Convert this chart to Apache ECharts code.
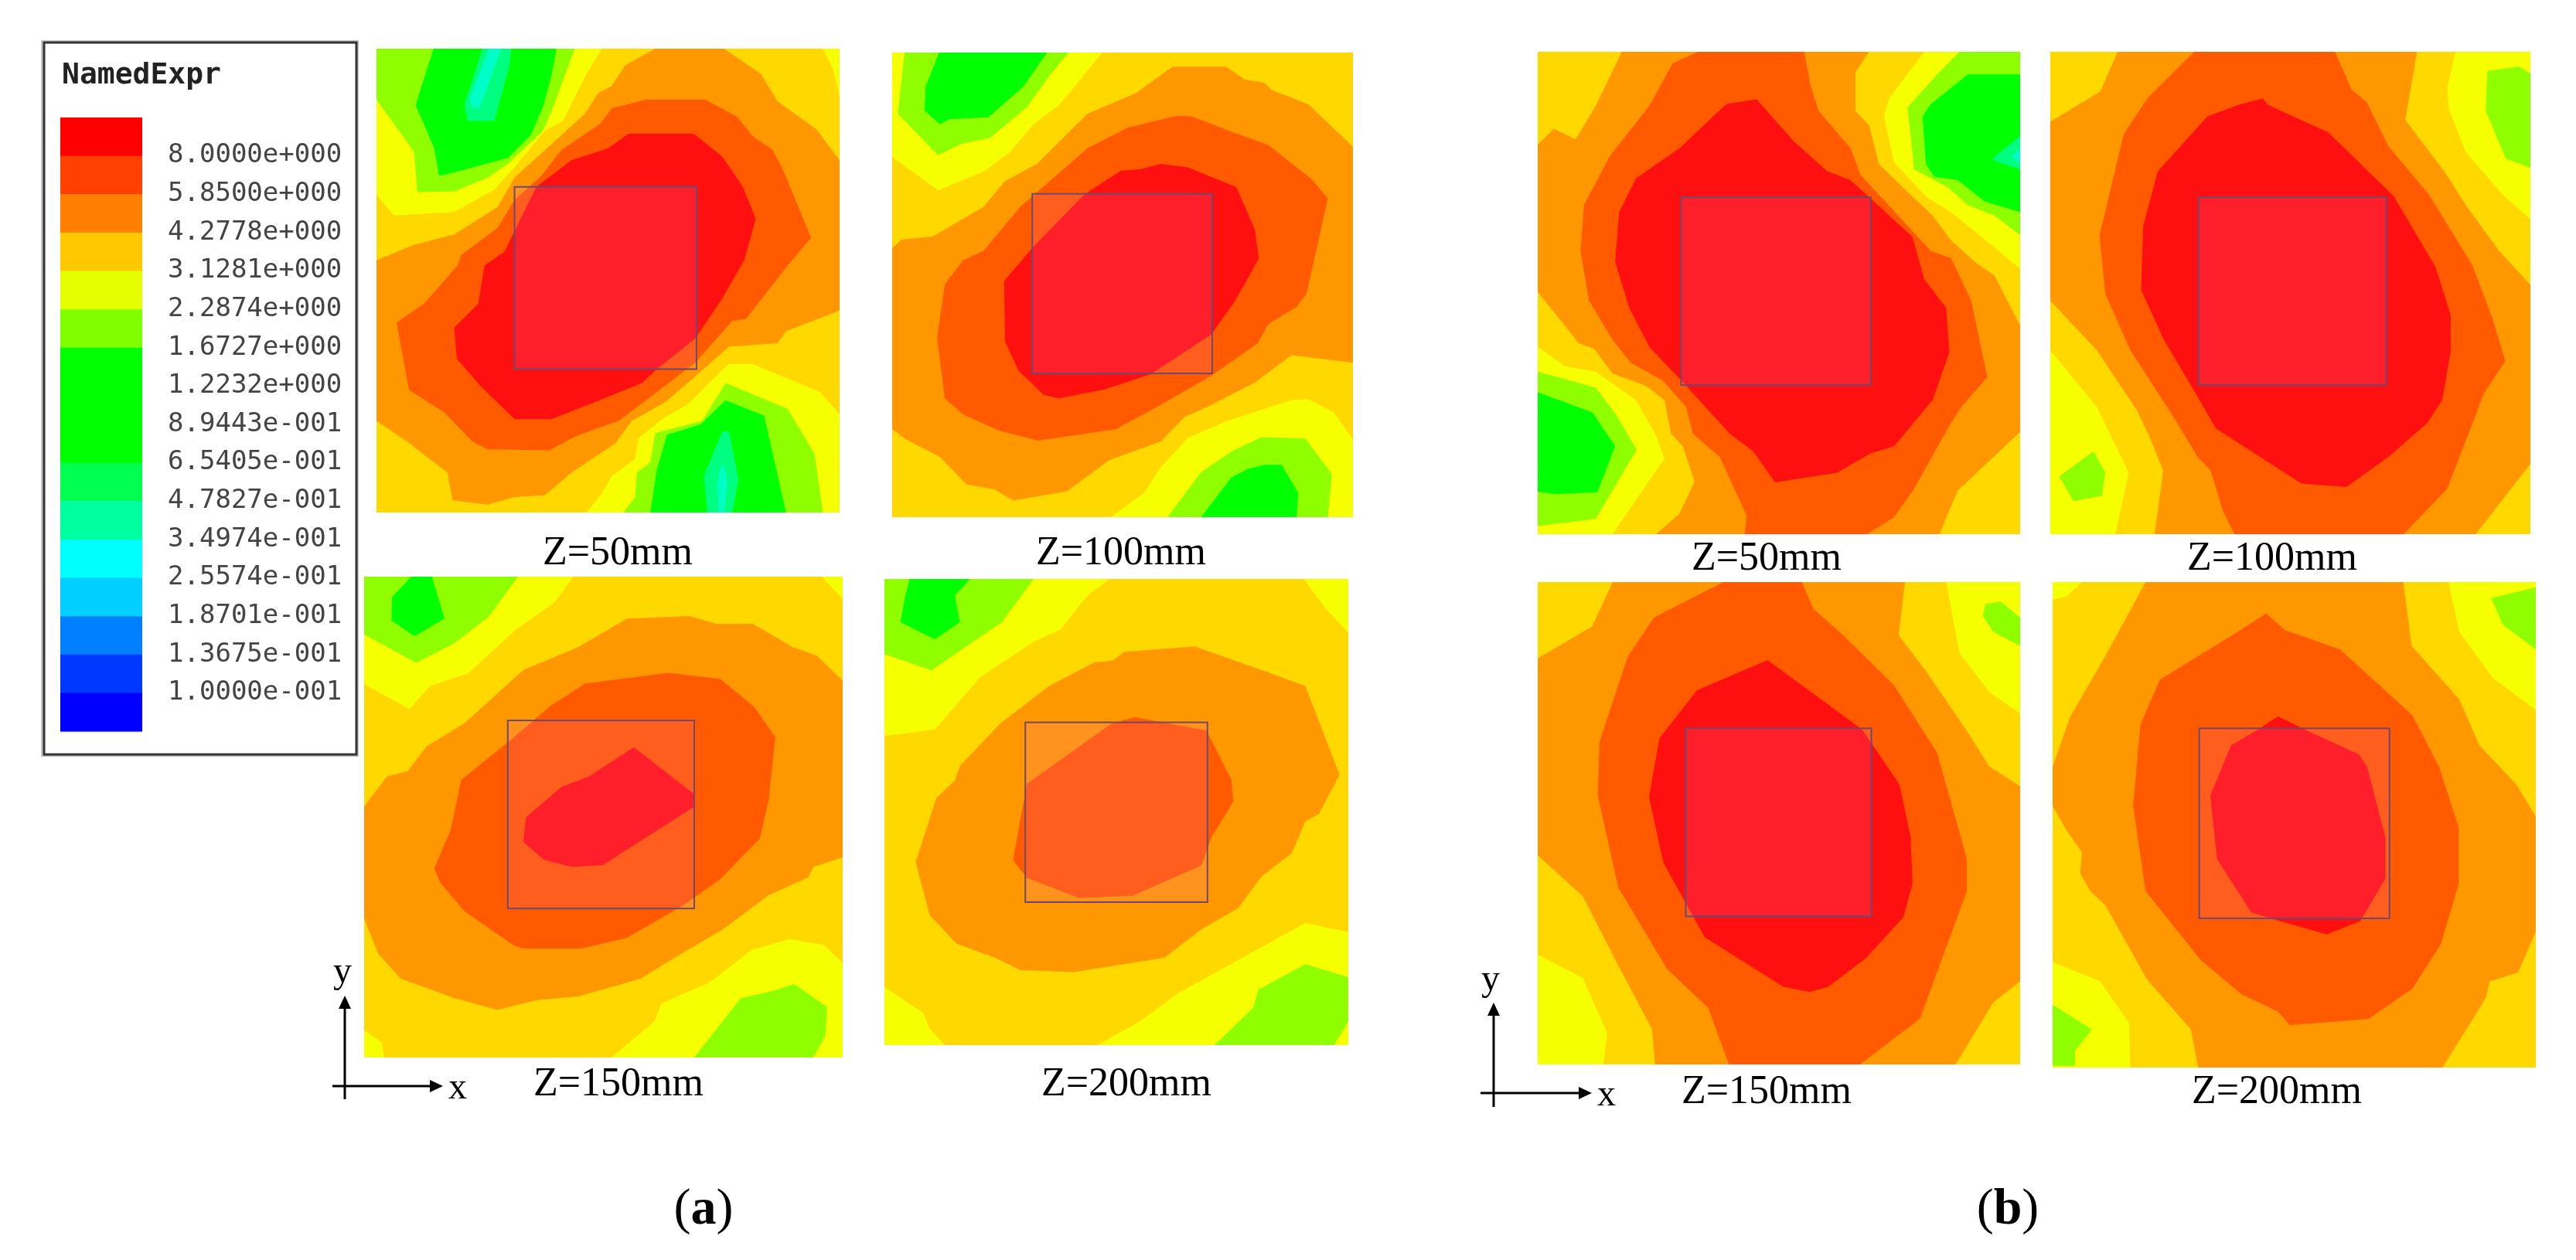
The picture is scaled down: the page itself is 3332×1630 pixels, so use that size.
<!DOCTYPE html>
<html>
<head>
<meta charset="utf-8">
<title>NamedExpr contours</title>
<style>
    html, body { margin: 0; padding: 0; background: #fff; }
    #chart { width: 3332px; height: 1630px; }
</style>
<script src="https://cdn.jsdelivr.net/npm/echarts@6/dist/echarts.min.js"></script>
</head>
<body>
<div id="chart"></div>
<script>
// contour levels, lower bound of each band on the colour scale
const RED = 8, REDORANGE = 5.85, ORANGE = 4.2778, GOLD = 3.1281, YELLOW = 2.2874
const LIME = 1.6727, GREEN = 0.65405, SPRING = 0.34974, CYAN = 0.25574

const legendLabels = ["8.0000e+000", "5.8500e+000", "4.2778e+000", "3.1281e+000", "2.2874e+000",
    "1.6727e+000", "1.2232e+000", "8.9443e-001", "6.5405e-001", "4.7827e-001", "3.4974e-001",
    "2.5574e-001", "1.8701e-001", "1.3675e-001", "1.0000e-001"]
const legendBands = [16, 15, 14, 13, 12, 11, 10, 9, 8, 7, 6, 5, 4, 3, 2, 1]

// every contour is [level, outline], x and y are positions on the measured plane of that map
const a50Extent = [[108, 1490], [52, 1395]]
const a50Square = [520, 452, 1063, 980]
const a50Contours = [
    [ORANGE, [[940,52],[1145,52],[1255,125],[1305,205],[1420,285],[1490,375],[1490,810],[1330,870],[1305,905],[1160,915],[1060,1000],[970,1075],[870,1130],[820,1195],[690,1280],[610,1345],[520,1350],[440,1372],[335,1360],[320,1280],[200,1190],[108,1130],[108,665],[220,620],[340,590],[470,510],[520,425],[640,320],[730,240],[770,180],[810,160],[850,100]]],
    [REDORANGE, [[910,200],[1090,200],[1185,250],[1230,305],[1290,345],[1320,400],[1405,600],[1335,680],[1210,835],[1170,840],[1060,960],[940,1050],[830,1130],[700,1175],[625,1215],[440,1212],[395,1190],[310,1105],[205,1040],[168,845],[250,790],[350,680],[360,650],[470,570],[520,490],[600,420],[660,345],[775,270],[810,225]]],
    [RED, [[860,298],[1055,298],[1140,365],[1200,450],[1240,545],[1205,665],[1140,775],[1060,890],[945,980],[900,1020],[800,1060],[630,1125],[520,1125],[420,1030],[348,950],[340,860],[412,790],[430,680],[490,640],[525,570],[585,452],[690,375],[800,340]]],
    [YELLOW, [[108,52],[780,52],[735,125],[665,260],[610,290],[520,395],[460,460],[340,525],[160,535],[108,475]]],
    [LIME, [[108,52],[700,52],[670,130],[640,210],[605,290],[500,385],[440,425],[340,465],[230,468],[220,350],[108,200]]],
    [GREEN, [[278,52],[645,52],[630,130],[605,220],[570,300],[500,368],[340,410],[295,420],[280,340],[225,215]]],
    [SPRING, [[425,52],[510,52],[505,100],[460,260],[380,262],[370,215]]],
    [CYAN, [[445,52],[480,52],[415,225],[393,220],[385,195]]],
    [YELLOW, [[1490,1110],[1430,1045],[1230,965],[1160,965],[1100,1020],[1040,1080],[960,1125],[890,1180],[880,1240],[810,1290],[780,1340],[735,1395],[1490,1395]]],
    [LIME, [[1150,1020],[1335,1095],[1415,1225],[1440,1395],[845,1395],[880,1350],[885,1280],[925,1250],[940,1165],[1080,1130]]],
    [GREEN, [[1150,1070],[1265,1115],[1330,1395],[925,1395],[945,1270],[975,1170],[1075,1140]]],
    [SPRING, [[1140,1160],[1160,1160],[1188,1300],[1170,1395],[1095,1395],[1085,1290]]],
    [CYAN, [[1137,1260],[1145,1260],[1155,1310],[1145,1395],[1130,1395],[1125,1310]]],
    [YELLOW, [[1440,52],[1490,52],[1490,190],[1470,110]]],
]

const a100Extent = [[78, 1453], [62, 1410]]
const a100Square = [496, 472, 1033, 993]
const a100Contours = [
    [ORANGE, [[915,103],[1075,103],[1130,140],[1190,150],[1210,170],[1320,212],[1453,335],[1453,962],[1270,940],[1160,1020],[1030,1085],[950,1120],[880,1190],[725,1245],[600,1335],[440,1362],[400,1340],[385,1330],[300,1315],[220,1235],[120,1185],[78,1155],[78,630],[105,605],[200,595],[350,510],[415,435],[510,385],[660,240],[805,180]]],
    [REDORANGE, [[930,245],[975,248],[1100,295],[1200,330],[1330,430],[1378,485],[1315,760],[1285,800],[1200,850],[1170,905],[1030,1000],[860,1095],[745,1155],[515,1188],[400,1160],[290,1112],[235,1065],[212,890],[235,735],[290,665],[350,638],[460,510],[660,340],[780,280]]],
    [RED, [[880,385],[960,395],[1105,452],[1160,575],[1172,660],[1100,785],[1030,880],[850,995],[710,1040],[575,1065],[530,1055],[455,985],[415,900],[412,725],[500,625],[650,475],[760,405],[820,400]]],
    [YELLOW, [[78,62],[705,62],[640,140],[575,215],[500,270],[430,350],[355,405],[215,462],[78,365]]],
    [LIME, [[115,62],[605,62],[555,120],[480,220],[370,310],[290,325],[215,360],[95,240]]],
    [GREEN, [[218,62],[540,62],[470,160],[365,250],[250,255],[220,270],[175,230],[178,160]]],
    [YELLOW, [[1270,1070],[1320,1068],[1395,1105],[1453,1185],[1453,1410],[730,1410],[830,1340],[880,1265],[960,1180],[1080,1130]]],
    [LIME, [[1180,1178],[1310,1182],[1390,1285],[1378,1410],[900,1410],[1000,1280],[1090,1220]]],
    [GREEN, [[1190,1258],[1240,1258],[1290,1340],[1285,1410],[1000,1410],[1090,1295],[1140,1270]]],
]

const a150Extent = [[159, 1545], [57, 1412]]
const a150Square = [575, 462, 1115, 992]
const a150Contours = [
    [ORANGE, [[920,175],[1100,168],[1180,190],[1285,190],[1400,255],[1470,280],[1545,350],[1545,848],[1460,875],[1445,905],[1330,955],[1200,1050],[1060,1130],[960,1190],[780,1240],[660,1250],[545,1278],[420,1245],[265,1190],[200,1120],[159,1020],[159,705],[225,620],[285,605],[340,535],[450,470],[620,320],[780,255]]],
    [REDORANGE, [[800,358],[1040,328],[1190,345],[1290,425],[1350,510],[1330,690],[1305,795],[1190,910],[1080,985],[920,1075],[790,1105],[620,1105],[590,1095],[450,1000],[380,920],[362,880],[410,770],[440,630],[580,520],[700,420]]],
    [RED, [[940,538],[1115,670],[1115,705],[850,870],[760,875],[680,855],[620,805],[628,735],[730,650],[810,620]]],
    [YELLOW, [[159,57],[765,57],[710,130],[600,205],[460,330],[350,365],[290,430],[159,360]]],
    [LIME, [[159,57],[605,57],[520,170],[420,245],[310,300],[159,220]]],
    [GREEN, [[295,57],[355,57],[392,175],[305,225],[238,180],[240,115]]],
    [YELLOW, [[1485,57],[1545,57],[1545,120]]],
    [YELLOW, [[1390,1078],[1490,1095],[1545,1145],[1545,1412],[875,1412],[1000,1310],[1020,1260],[1160,1200],[1280,1110]]],
    [LIME, [[1405,1205],[1500,1270],[1495,1350],[1460,1412],[1115,1412],[1250,1245],[1340,1225]]],
    [YELLOW, [[159,1335],[210,1370],[218,1412],[159,1412]]],
]

const a200Extent = [[55, 1438], [63, 1376]]
const a200Square = [475, 467, 1018, 973]
const a200Contours = [
    [ORANGE, [[770,268],[980,253],[1210,330],[1310,365],[1412,615],[1350,725],[1310,745],[1270,835],[1180,900],[1110,990],[1000,1050],[890,1130],[620,1170],[460,1165],[385,1130],[270,1090],[190,1010],[148,860],[210,680],[265,630],[280,590],[400,470],[545,365],[680,298],[735,293]]],
    [REDORANGE, [[800,452],[1015,490],[1090,630],[1095,690],[1030,790],[1000,870],[795,955],[635,962],[480,905],[438,855],[480,640],[730,472]]],
    [YELLOW, [[55,63],[725,63],[660,110],[580,205],[500,240],[340,340],[205,487],[55,505]]],
    [LIME, [[55,63],[500,63],[405,185],[195,320],[55,275]]],
    [GREEN, [[130,63],[310,63],[265,110],[280,185],[205,233],[103,185],[115,120]]],
    [YELLOW, [[1305,63],[1438,63],[1438,215],[1370,145]]],
    [YELLOW, [[1310,1032],[1438,1058],[1438,1376],[690,1376],[815,1310],[930,1230]]],
    [LIME, [[1310,1148],[1438,1185],[1438,1310],[1395,1376],[1040,1376],[1155,1270],[1170,1220]]],
    [YELLOW, [[55,1212],[170,1285],[190,1330],[235,1376],[55,1376]]],
]

const b50Extent = [[67, 1506], [58, 1418]]
const b50Square = [495, 468, 1060, 998]
const b50Contours = [
    [ORANGE, [[318,58],[1055,58],[1015,115],[1015,225],[1055,265],[1085,375],[1145,430],[1245,520],[1300,590],[1370,650],[1430,690],[1506,830],[1506,1130],[1320,1295],[1265,1418],[420,1418],[490,1360],[535,1270],[500,1170],[465,1135],[445,1040],[390,1000],[290,965],[235,895],[190,880],[67,735],[67,320],[115,275],[180,305],[240,210]]],
    [REDORANGE, [[545,58],[862,58],[880,150],[905,225],[1000,330],[1030,405],[1240,620],[1300,640],[1360,760],[1408,975],[1330,1060],[1290,1120],[1190,1290],[1130,1370],[1050,1418],[685,1418],[690,1365],[610,1200],[530,1135],[510,1060],[440,985],[345,935],[290,870],[220,760],[195,620],[205,490],[280,355],[400,210],[470,90]]],
    [RED, [[630,205],[720,192],[830,310],[930,395],[1000,420],[1185,580],[1220,700],[1285,780],[1295,905],[1245,1040],[1130,1170],[1060,1190],[960,1245],[775,1272],[710,1185],[640,1135],[515,1005],[400,890],[340,780],[298,650],[310,510],[360,415],[490,330]]],
    [YELLOW, [[1220,58],[1506,58],[1506,670],[1430,610],[1300,510],[1230,470],[1130,370],[1100,240],[1115,190]]],
    [LIME, [[1325,58],[1506,58],[1506,575],[1430,520],[1350,490],[1290,440],[1190,390],[1180,300],[1170,215],[1260,120]]],
    [GREEN, [[1350,122],[1506,122],[1506,510],[1400,480],[1320,420],[1250,410],[1225,375],[1215,240],[1240,205]]],
    [SPRING, [[1506,295],[1506,390],[1420,362]]],
    [CYAN, [[1506,330],[1506,370],[1480,355]]],
    [YELLOW, [[67,890],[150,945],[240,960],[360,1040],[420,1140],[445,1205],[290,1418],[67,1418]]],
    [LIME, [[67,960],[240,1005],[300,1080],[362,1180],[240,1375],[67,1395]]],
    [GREEN, [[67,1018],[230,1075],[298,1170],[245,1300],[120,1305],[67,1298]]],
]

const b100Extent = [[51, 1483], [58, 1418]]
const b100Square = [493, 468, 1053, 998]
const b100Contours = [
    [ORANGE, [[252,58],[1145,58],[1110,250],[1230,400],[1290,490],[1390,620],[1483,715],[1483,1220],[1320,1418],[362,1418],[388,1240],[350,1150],[310,1070],[190,900],[51,760],[51,255],[200,170]]],
    [REDORANGE, [[480,58],[900,58],[950,165],[995,200],[1060,325],[1180,460],[1310,660],[1370,810],[1408,930],[1345,1020],[1235,1290],[1105,1418],[600,1418],[565,1350],[530,1240],[490,1200],[420,1090],[290,900],[215,740],[198,575],[270,290],[340,190]]],
    [RED, [[620,205],[685,190],[700,208],[880,285],[1075,465],[1200,665],[1245,800],[1245,905],[1220,1040],[1175,1105],[1060,1200],[935,1285],[800,1275],[545,1120],[490,1030],[390,870],[322,730],[328,550],[372,395],[520,240]]],
    [YELLOW, [[1260,58],[1483,58],[1483,530],[1400,460],[1290,340],[1240,220],[1235,160]]],
    [LIME, [[1355,112],[1450,100],[1483,120],[1483,385],[1410,360],[1350,225]]],
    [YELLOW, [[51,900],[190,1060],[285,1245],[245,1418],[51,1418]]],
    [LIME, [[78,1255],[180,1185],[215,1245],[205,1310],[120,1325]]],
]

const b150Extent = [[225, 1512], [50, 1409]]
const b150Square = [620, 462, 1115, 992]
const b150Contours = [
    [ORANGE, [[425,50],[1205,50],[1188,200],[1260,300],[1370,470],[1430,570],[1512,625],[1512,1175],[1440,1235],[1340,1409],[538,1409],[530,1310],[430,1110],[345,935],[225,820],[225,265],[370,175]]],
    [REDORANGE, [[720,50],[930,50],[960,125],[1040,200],[1175,340],[1290,530],[1370,830],[1370,920],[1245,1280],[1085,1409],[735,1409],[680,1250],[570,1140],[440,910],[385,650],[390,500],[465,260],[535,150]]],
    [RED, [[838,270],[1090,465],[1190,620],[1220,770],[1225,900],[1200,995],[1100,1110],[1000,1190],[950,1205],[880,1190],[670,1050],[560,840],[522,655],[550,490],[650,355]]],
    [YELLOW, [[1315,50],[1512,50],[1512,420],[1430,360],[1350,250]]],
    [LIME, [[1420,112],[1460,105],[1512,150],[1512,230],[1440,190],[1412,145]]],
    [YELLOW, [[225,1100],[345,1165],[410,1320],[400,1409],[225,1409]]],
]

const b200Extent = [[58, 1498], [50, 1417]]
const b200Square = [495, 462, 1062, 997]
const b200Contours = [
    [ORANGE, [[335,50],[1103,50],[1128,230],[1270,380],[1330,510],[1440,620],[1498,710],[1498,1035],[1445,1150],[1360,1175],[1350,1220],[1220,1417],[492,1417],[470,1310],[340,1170],[215,960],[170,920],[140,870],[145,810],[100,750],[58,680],[58,570],[110,430],[220,250]]],
    [REDORANGE, [[695,138],[750,185],[915,240],[1130,425],[1210,570],[1268,740],[1268,900],[1215,1070],[1130,1195],[1000,1280],[765,1298],[730,1260],[620,1210],[500,1115],[335,920],[298,680],[320,450],[378,325],[610,190]]],
    [RED, [[730,428],[820,470],[970,535],[995,570],[1050,770],[1050,885],[975,1005],[875,1042],[700,995],[650,980],[548,830],[528,650],[590,510],[670,465]]],
    [YELLOW, [[1238,50],[1498,50],[1498,410],[1370,320],[1270,190]]],
    [LIME, [[1365,95],[1498,65],[1498,240],[1400,170]]],
    [YELLOW, [[58,50],[145,50],[100,90],[58,100]]],
    [YELLOW, [[58,1120],[200,1175],[285,1290],[290,1417],[58,1417]]],
    [LIME, [[58,1240],[175,1310],[125,1370],[125,1412],[58,1412]]],
]

const levelColors = {
    [RED]: "#FF1010",
    [REDORANGE]: "#FF5A00",
    [ORANGE]: "#FF9800",
    [GOLD]: "#FFD800",
    [YELLOW]: "#F5FF00",
    [LIME]: "#8FFF00",
    [GREEN]: "#00FF00",
    [SPRING]: "#00FF80",
    [CYAN]: "#00FFC8",
}
const legendColors = ["#0000FF", "#0038FF", "#0080FF", "#00CFFF", "#00FFFF", "#00FF9F", "#00FF50",
    "#00FF00", "#00FF00", "#00FF00", "#7FFF00", "#E6FF00", "#FFC800", "#FF8000", "#FF4000", "#FF0000"]

const serif = '"Liberation Serif", "Times New Roman", serif'
const mono = '"DejaVu Sans Mono", monospace'

// box is left, top, width, height of the map on the page
const panels = [
    { extent: a50Extent, square: a50Square, contours: a50Contours, box: [487, 63, 599, 600], label: "Z=50mm", at: [799, 716] },
    { extent: a100Extent, square: a100Square, contours: a100Contours, box: [1154, 68, 596, 601], label: "Z=100mm", at: [1450, 716] },
    { extent: a150Extent, square: a150Square, contours: a150Contours, box: [471, 746, 619, 622], label: "Z=150mm", at: [800, 1403] },
    { extent: a200Extent, square: a200Square, contours: a200Contours, box: [1144, 749, 600, 603], label: "Z=200mm", at: [1457, 1403] },
    { extent: b50Extent, square: b50Square, contours: b50Contours, box: [1989, 67, 624, 624], label: "Z=50mm", at: [2285, 723] },
    { extent: b100Extent, square: b100Square, contours: b100Contours, box: [2652, 67, 621, 624], label: "Z=100mm", at: [2939, 723] },
    { extent: b150Extent, square: b150Square, contours: b150Contours, box: [1989, 753, 624, 624], label: "Z=150mm", at: [2285, 1413] },
    { extent: b200Extent, square: b200Square, contours: b200Contours, box: [2655, 753, 625, 628], label: "Z=200mm", at: [2945, 1413] },
]

function contourSeries(panel, i) {
    return {
        type: "custom",
        coordinateSystem: "cartesian2d",
        xAxisIndex: i,
        yAxisIndex: i,
        silent: true,
        clip: true,
        data: panel.contours.map((c, k) => [k, c[0]]),
        renderItem: function (params, api) {
            let c = panel.contours[params.dataIndex]
            return {
                type: "polygon",
                shape: { points: c[1].map((p) => api.coord(p)) },
                style: { fill: levelColors[c[0]] },
            }
        },
    }
}

// the translucent square laid over each map, drawn after the contours
function squareSeries(panel, i) {
    return {
        type: "custom",
        coordinateSystem: "cartesian2d",
        xAxisIndex: i,
        yAxisIndex: i,
        silent: true,
        z: 5,
        data: [panel.square],
        renderItem: function (params, api) {
            let a = api.coord([api.value(0), api.value(1)])
            let b = api.coord([api.value(2), api.value(3)])
            return {
                type: "rect",
                shape: { x: a[0], y: a[1], width: b[0] - a[0], height: b[1] - a[1] },
                style: { fill: "rgba(255,122,200,0.15)", stroke: "#6A4A72", lineWidth: 2 },
            }
        },
    }
}

const legendIndex = panels.length

function arrows(ox, oy, top, left, right, bottom) {
    let ln = { stroke: "#000", lineWidth: 3 }
    return [
        { type: "line", shape: { x1: ox, y1: top + 10, x2: ox, y2: bottom }, style: ln },
        { type: "line", shape: { x1: left, y1: oy, x2: right - 10, y2: oy }, style: ln },
        { type: "polygon", shape: { points: [[ox, top], [ox - 8, top + 17], [ox + 8, top + 17]] }, style: { fill: "#000" } },
        { type: "polygon", shape: { points: [[right, oy], [right - 17, oy - 8], [right - 17, oy + 8]] }, style: { fill: "#000" } },
    ]
}

function serifText(text, x, y, size) {
    return {
        type: "text",
        style: { text: text, x: x, y: y, fill: "#000", font: size + "px " + serif, textAlign: "center", textVerticalAlign: "middle" },
    }
}

function captionText(letter, x, y) {
    return {
        type: "text",
        style: {
            text: "{n|(}{b|" + letter + "}{n|)}",
            x: x,
            y: y,
            fill: "#000",
            textAlign: "center",
            textVerticalAlign: "middle",
            rich: {
                n: { fontFamily: serif, fontSize: 66, fill: "#000" },
                b: { fontFamily: serif, fontSize: 66, fontWeight: "bold", fill: "#000" },
            },
        },
    }
}

let option = {
    backgroundColor: "#fff",
    animation: false,
    grid: panels
        .map((p) => ({ left: p.box[0], top: p.box[1], width: p.box[2], height: p.box[3], show: true, backgroundColor: levelColors[GOLD], borderWidth: 0 }))
        .concat([{ left: 78, top: 152, width: 106, height: 794 }]),
    xAxis: panels
        .map((p, i) => ({ type: "value", gridIndex: i, min: p.extent[0][0], max: p.extent[0][1], show: false }))
        .concat([{ type: "value", gridIndex: legendIndex, min: 0, max: 1, show: false }]),
    yAxis: panels
        .map((p, i) => ({ type: "value", gridIndex: i, min: p.extent[1][0], max: p.extent[1][1], inverse: true, show: false }))
        .concat([
            {
                type: "value",
                gridIndex: legendIndex,
                position: "right",
                inverse: true,
                min: 0,
                max: 16,
                interval: 1,
                axisLine: { show: false },
                axisTick: { show: false },
                splitLine: { show: false },
                axisLabel: {
                    margin: 33,
                    fontFamily: mono,
                    fontSize: 34,
                    color: "#444",
                    hideOverlap: false,
                    showMinLabel: true,
                    showMaxLabel: true,
                    formatter: function (value) {
                        return legendLabels[value - 1] || ""
                    },
                },
            },
        ]),
    graphic: {
        elements: [
            { type: "rect", shape: { x: 53, y: 52, width: 411, height: 927 }, style: { fill: "#C4C4C4" } },
            { type: "rect", shape: { x: 57, y: 55, width: 404, height: 921 }, style: { fill: "#fff", stroke: "#333", lineWidth: 3 } },
            {
                type: "text",
                style: { text: "NamedExpr", x: 80, y: 98, fill: "#222", font: "bold 38px " + mono, textAlign: "left", textVerticalAlign: "middle" },
            },
            ...panels.map((p) => serifText(p.label, p.at[0], p.at[1], 52)),
            ...arrows(446, 1405, 1288, 430, 573, 1422),
            ...arrows(1932, 1414, 1297, 1915, 2059, 1432),
            serifText("y", 443, 1258, 48),
            serifText("x", 592, 1408, 48),
            serifText("y", 1928, 1268, 48),
            serifText("x", 2078, 1417, 48),
            captionText("a", 910, 1566),
            captionText("b", 2597, 1566),
        ],
    },
    series: [
        ...panels.map(contourSeries),
        ...panels.map(squareSeries),
        {
            type: "custom",
            coordinateSystem: "cartesian2d",
            xAxisIndex: legendIndex,
            yAxisIndex: legendIndex,
            silent: true,
            data: legendBands.map((b, i) => [i, b]),
            renderItem: function (params, api) {
                let i = api.value(0)
                let a = api.coord([0, i])
                let b = api.coord([1, i + 1])
                return {
                    type: "rect",
                    shape: { x: a[0], y: a[1], width: b[0] - a[0], height: b[1] - a[1] + 0.5 },
                    style: { fill: legendColors[api.value(1) - 1] },
                }
            },
        },
    ],
}

let myChart = echarts.init(document.getElementById("chart"), null, { renderer: "canvas" })
myChart.setOption(option)
window.addEventListener("resize", function () {
    myChart.resize()
})
</script>
</body>
</html>
